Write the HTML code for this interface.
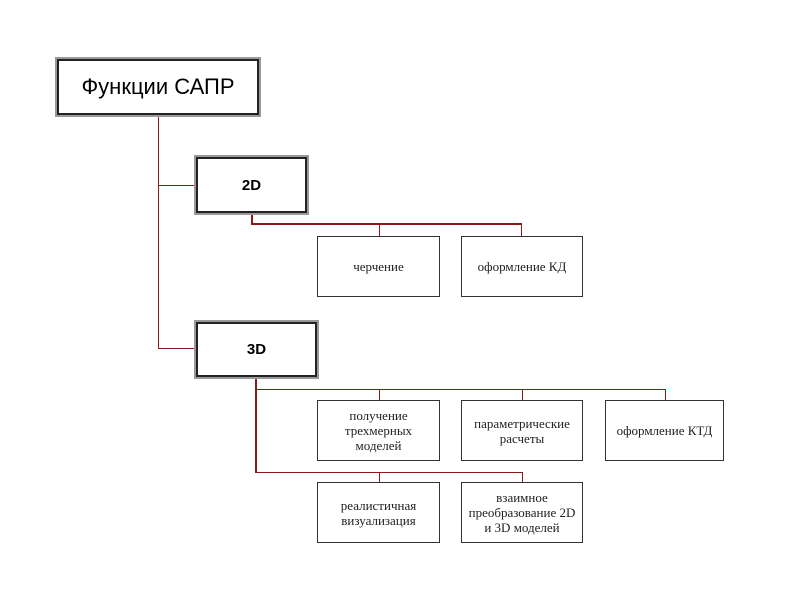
<!DOCTYPE html>
<html><head><meta charset="utf-8"><style>
body{margin:0;width:800px;height:600px;background:#fff;position:relative;overflow:hidden}
.b{position:absolute;box-sizing:border-box;display:flex;align-items:center;justify-content:center;text-align:center}
.d{border:2px solid #222;box-shadow:0 0 0 2px #999;font-family:"Liberation Sans",sans-serif;color:#000}
.s{border:1px solid #333;font-family:"Liberation Serif",serif;font-size:13px;line-height:15px;color:#222}
.l{position:absolute;background:#8b1a1a}
</style></head><body>
<div class="l" style="left:158px;top:116px;width:1px;height:233px"></div>
<div class="l" style="left:158px;top:185px;width:36px;height:1px"></div>
<div class="l" style="left:158px;top:348px;width:36px;height:1px"></div>
<div class="l" style="left:251px;top:214px;width:2px;height:11px"></div>
<div class="l" style="left:251px;top:223px;width:271px;height:2px"></div>
<div class="l" style="left:379px;top:224px;width:1px;height:12px"></div>
<div class="l" style="left:521px;top:224px;width:1px;height:12px"></div>
<div class="l" style="left:255px;top:378px;width:2px;height:95px"></div>
<div class="l" style="left:256px;top:389px;width:410px;height:1px"></div>
<div class="l" style="left:379px;top:389px;width:1px;height:11px"></div>
<div class="l" style="left:522px;top:389px;width:1px;height:11px"></div>
<div class="l" style="left:665px;top:389px;width:1px;height:11px"></div>
<div class="l" style="left:256px;top:472px;width:267px;height:1px"></div>
<div class="l" style="left:379px;top:472px;width:1px;height:10px"></div>
<div class="l" style="left:522px;top:472px;width:1px;height:10px"></div>
<div class="b d" style="left:57px;top:59px;width:202px;height:56px;font-size:22px">Функции САПР</div>
<div class="b d" style="left:196px;top:157px;width:111px;height:56px;font-size:15px;font-weight:bold">2D</div>
<div class="b d" style="left:196px;top:322px;width:121px;height:55px;font-size:15px;font-weight:bold">3D</div>
<div class="b s" style="left:317px;top:236px;width:123px;height:61px">черчение</div>
<div class="b s" style="left:461px;top:236px;width:122px;height:61px">оформление КД</div>
<div class="b s" style="left:317px;top:400px;width:123px;height:61px">получение<br>трехмерных<br>моделей</div>
<div class="b s" style="left:461px;top:400px;width:122px;height:61px">параметрические<br>расчеты</div>
<div class="b s" style="left:605px;top:400px;width:119px;height:61px">оформление КТД</div>
<div class="b s" style="left:317px;top:482px;width:123px;height:61px">реалистичная<br>визуализация</div>
<div class="b s" style="left:461px;top:482px;width:122px;height:61px">взаимное<br>преобразование 2D<br>и 3D моделей</div>
</body></html>
